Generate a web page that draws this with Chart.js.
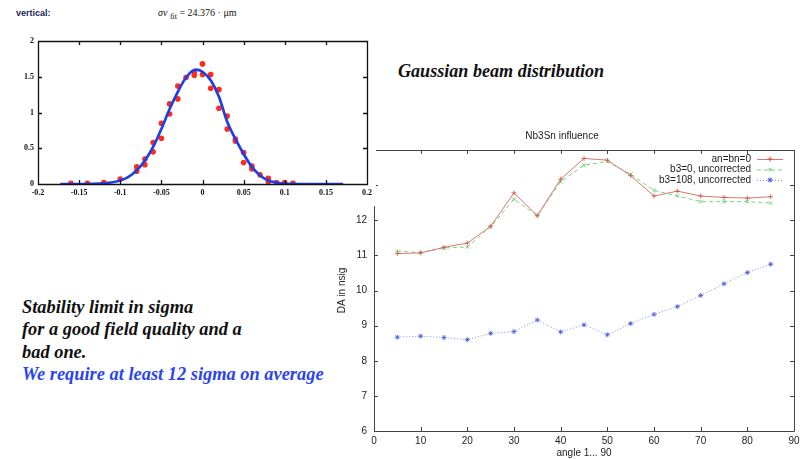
<!DOCTYPE html>
<html>
<head>
<meta charset="utf-8">
<script src="https://cdn.jsdelivr.net/npm/chart.js@4.4.1/dist/chart.umd.min.js"></script>
<style>
  body { margin: 0; width: 807px; height: 459px; overflow: hidden; background: #fff; position: relative; }
  #gbox { position: absolute; left: 0; top: 0; width: 376px; height: 206px; background: #fff; z-index: 2; }
  #gbox canvas { position: absolute; left: 0; top: 0; }
  #mainWrap { position: absolute; left: 330px; top: 120px; }
  .hdr { position: absolute; top: 8px; font-size: 9px; white-space: nowrap; }
  #vert { left: 16px; font-family: "Liberation Sans", Arial, sans-serif; font-weight: bold; color: #1b1f5c; }
  #sigma { left: 158px; top: 7px; font-family: "Liberation Serif", serif; font-size: 10px; color: #111; }
  #sigma sub { font-size: 8px; }
  .slide { position: absolute; font-family: "Liberation Serif", "Times New Roman", serif; font-weight: bold; font-style: italic; white-space: nowrap; }
  #gauss { left: 398px; top: 61px; font-size: 18.1px; color: #111; }
  #stab { left: 22px; top: 296px; font-size: 18.4px; line-height: 22.3px; color: #111; }
  #stab .blue { color: #2a45f0; }
</style>
</head>
<body>
<div id="gbox">
  <div class="hdr" id="vert">vertical:</div>
  <div class="hdr" id="sigma"><i>σv</i> <sub>fit</sub> = 24.376 · μm</div>
  <canvas id="gaussChart" width="376" height="206"></canvas>
</div>
<div class="slide" id="gauss">Gaussian beam distribution</div>
<div class="slide" id="stab">Stability limit in sigma<br>for a good field quality and a<br>bad one.<br><span class="blue">We require at least 12 sigma on average</span></div>
<div id="mainWrap"><canvas id="daChart" width="508" height="339"></canvas></div>

<script>
// Nb3Sn influence: dynamic aperture vs angle
const angles = [5, 10, 15, 20, 25, 30, 35, 40, 45, 50, 55, 60, 65, 70, 75, 80, 85];
const anBn0 = [11.05, 11.07, 11.23, 11.35, 11.83, 12.78, 12.13, 13.17, 13.76, 13.71, 13.27, 12.69, 12.83, 12.69, 12.65, 12.63, 12.67];
const b3zero = [11.12, 11.08, 11.21, 11.24, 11.81, 12.6, 12.13, 13.1, 13.57, 13.67, 13.31, 12.85, 12.69, 12.53, 12.53, 12.53, 12.49];
const b3_108 = [8.67, 8.7, 8.66, 8.6, 8.78, 8.83, 9.16, 8.82, 9.02, 8.74, 9.06, 9.32, 9.54, 9.86, 10.19, 10.51, 10.75];

// vertical beam profile: gaussian fit curve and measured points
const fitX = [-0.173, -0.15, -0.12, -0.1, -0.09, -0.08, -0.07, -0.06, -0.05, -0.04, -0.03, -0.02, -0.008, 0, 0.01, 0.02, 0.03, 0.04, 0.05, 0.06, 0.07, 0.08, 0.09, 0.1, 0.12, 0.15, 0.171];
const fitY = [0, 0, 0.01, 0.05, 0.1, 0.19, 0.33, 0.52, 0.77, 1.05, 1.29, 1.49, 1.6, 1.57, 1.45, 1.22, 0.87, 0.63, 0.42, 0.24, 0.12, 0.05, 0.02, 0.005, 0, 0, 0];
const dotX = [-0.16, -0.14, -0.12, -0.1, -0.08, -0.08, -0.07, -0.07, -0.06, -0.06, -0.05, -0.05, -0.04, -0.04, -0.03, -0.03, -0.02, -0.01, -0.01, 0, 0, 0.01, 0.01, 0.02, 0.02, 0.03, 0.03, 0.04, 0.04, 0.05, 0.05, 0.06, 0.06, 0.07, 0.08, 0.08, 0.09, 0.1, 0.11];
const dotY = [0.01, 0.01, 0.02, 0.07, 0.24, 0.18, 0.35, 0.27, 0.58, 0.45, 0.85, 0.64, 1.12, 0.98, 1.37, 1.19, 1.49, 1.57, 1.52, 1.68, 1.53, 1.53, 1.34, 1.32, 1.06, 0.95, 0.77, 0.63, 0.6, 0.44, 0.3, 0.25, 0.21, 0.13, 0.08, 0.03, 0.02, 0.02, 0.01];

const innerTicks = {
  id: "innerTicks",
  afterDatasetsDraw(chart, args, opts) {
    const { ctx, chartArea: a, scales } = chart;
    const x = scales.x, y = scales.y;
    const L = opts.len;
    ctx.save();
    ctx.strokeStyle = opts.color;
    ctx.lineWidth = opts.width;
    ctx.beginPath();
    ctx.rect(Math.round(a.left) + 0.5, Math.round(a.top) + 0.5, Math.round(a.right - a.left), Math.round(a.bottom - a.top));
    x.ticks.forEach((t) => {
      const px = Math.round(x.getPixelForValue(t.value)) + 0.5;
      ctx.moveTo(px, a.bottom); ctx.lineTo(px, a.bottom - L);
      ctx.moveTo(px, a.top); ctx.lineTo(px, a.top + L);
    });
    y.ticks.forEach((t) => {
      const py = Math.round(y.getPixelForValue(t.value)) + 0.5;
      ctx.moveTo(a.left, py); ctx.lineTo(a.left + L, py);
      ctx.moveTo(a.right, py); ctx.lineTo(a.right - L, py);
    });
    ctx.stroke();
    ctx.restore();
  },
};

// gnuplot style key: text on the left, line sample on the right
const gnuKey = {
  id: "gnuKey",
  afterDatasetsDraw(chart) {
    const ctx = chart.ctx;
    const rows = [39, 49.5, 60];
    ctx.save();
    ctx.font = "10px 'Liberation Sans', Arial, sans-serif";
    ctx.textAlign = "right";
    ctx.textBaseline = "middle";
    chart.data.datasets.forEach((ds, i) => {
      const yy = rows[i];
      ctx.fillStyle = "#222";
      ctx.fillText(ds.label, 421, yy);
      ctx.strokeStyle = ds.borderColor;
      ctx.lineWidth = 1;
      ctx.setLineDash(ds.borderDash || []);
      ctx.beginPath();
      ctx.moveTo(427, yy + 0.5);
      ctx.lineTo(453, yy + 0.5);
      ctx.stroke();
      ctx.setLineDash([]);
      ctx.strokeStyle = ds.pointBorderColor;
      ctx.fillStyle = ds.pointBorderColor;
      Chart.helpers.drawPoint(ctx, { pointStyle: ds.pointStyle, radius: ds.pointRadius, rotation: 0, borderWidth: ds.pointBorderWidth }, 440, yy);
    });
    ctx.restore();
  },
};

const pts = (vals) => angles.map((a, i) => ({ x: a, y: vals[i] }));
const sans10 = { family: "'Liberation Sans', Arial, sans-serif", size: 10 };

new Chart(document.getElementById("daChart"), {
  type: "line",
  data: {
    datasets: [
      {
        label: "an=bn=0",
        data: pts(anBn0),
        borderColor: "rgb(210,120,112)",
        pointBorderColor: "rgb(205,80,70)",
        pointStyle: "cross",
        pointRadius: 2.5,
        pointBorderWidth: 0.8,
        borderWidth: 1,
      },
      {
        label: "b3=0, uncorrected",
        data: pts(b3zero),
        borderColor: "rgb(120,212,120)",
        pointBorderColor: "rgb(90,200,90)",
        borderDash: [4, 3],
        pointStyle: "crossRot",
        pointRadius: 2.5,
        pointBorderWidth: 0.8,
        borderWidth: 1,
      },
      {
        label: "b3=108, uncorrected",
        data: pts(b3_108),
        borderColor: "rgb(140,140,228)",
        pointBorderColor: "rgb(70,80,215)",
        borderDash: [1, 2],
        pointStyle: "star",
        pointRadius: 2.5,
        pointBorderWidth: 0.8,
        borderWidth: 1,
      },
    ],
  },
  options: {
    responsive: false,
    animation: false,
    layout: { padding: { left: 0, right: 44, top: 0, bottom: 0 } },
    plugins: {
      legend: { display: false },
      tooltip: { enabled: false },
      title: {
        display: true,
        text: "Nb3Sn influence",
        color: "#222",
        font: { family: "'Liberation Sans', Arial, sans-serif", size: 10, weight: "normal" },
        padding: { top: 10, bottom: 8 },
      },
      innerTicks: { len: 4, color: "#444", width: 1 },
    },
    scales: {
      x: {
        type: "linear",
        min: 0,
        max: 90,
        ticks: { stepSize: 10, color: "#222", padding: 4, font: sans10 },
        grid: { display: false, drawTicks: false },
        border: { display: false },
        title: { display: true, text: "angle 1... 90", color: "#222", padding: { top: 2, bottom: 0 }, font: sans10 },
        afterFit: (s) => { s.height = 28; },
      },
      y: {
        min: 6,
        max: 14,
        ticks: { stepSize: 1, color: "#222", padding: 7, font: sans10 },
        grid: { display: false, drawTicks: false },
        border: { display: false },
        title: { display: true, text: "DA in nsig", color: "#222", padding: { top: 6, bottom: 0 }, font: sans10 },
        afterFit: (s) => { s.width = 44; },
      },
    },
  },
  plugins: [innerTicks, gnuKey],
});

const serifBold = { family: "'Liberation Serif', 'Times New Roman', serif", size: 8, weight: "bold" };

new Chart(document.getElementById("gaussChart"), {
  type: "line",
  data: {
    datasets: [
      {
        label: "fit",
        data: fitX.map((x, i) => ({ x: x, y: fitY[i] })),
        borderColor: "#1f3ee6",
        borderWidth: 2.7,
        pointRadius: 0,
        cubicInterpolationMode: "monotone",
      },
      {
        label: "data",
        data: dotX.map((x, i) => ({ x: x, y: dotY[i] })),
        showLine: false,
        pointRadius: 2.8,
        pointBorderWidth: 0,
        pointBackgroundColor: "#ff2a18",
      },
    ],
  },
  options: {
    responsive: false,
    animation: false,
    layout: { padding: { left: 0, right: 7, top: 41, bottom: 0 } },
    plugins: {
      legend: { display: false },
      tooltip: { enabled: false },
      innerTicks: { len: 4, color: "#111", width: 1.3 },
    },
    scales: {
      x: {
        type: "linear",
        min: -0.2,
        max: 0.2,
        ticks: { stepSize: 0.05, color: "#111", padding: 4, font: serifBold, callback: (v) => String(Math.round(v * 100) / 100) },
        grid: { display: false, drawTicks: false },
        border: { display: false },
        afterFit: (s) => { s.height = 22; },
      },
      y: {
        min: 0,
        max: 2,
        ticks: { stepSize: 0.5, color: "#111", padding: 4, font: serifBold, callback: (v) => String(Math.round(v * 10) / 10) },
        grid: { display: false, drawTicks: false },
        border: { display: false },
        afterFit: (s) => { s.width = 38; },
      },
    },
  },
  plugins: [innerTicks],
});
</script>
</body>
</html>
